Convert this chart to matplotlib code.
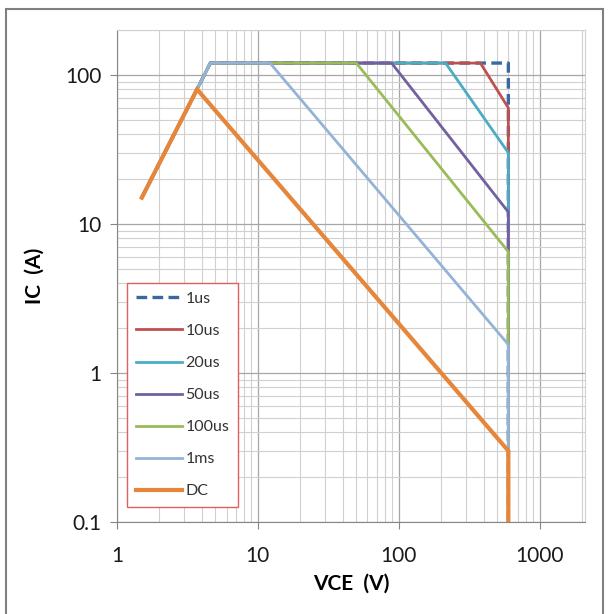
import matplotlib
matplotlib.use("Agg")
import matplotlib.pyplot as plt
from matplotlib.patches import Rectangle
from matplotlib.ticker import FixedLocator, LogLocator, NullFormatter

plt.rcParams['font.family'] = ['Lato', 'DejaVu Sans']

# safe operating area curves (VCE in V, IC in A)
labels = ['1us', '10us', '20us', '50us', '100us', '1ms', 'DC']
vce_1us = [1.5, 3.7, 4.6, 600, 600]
ic_1us = [15, 80, 120, 120, 0.1]
vce_10us = [1.5, 3.7, 4.6, 380, 600, 600]
ic_10us = [15, 80, 120, 120, 60, 0.1]
vce_20us = [1.5, 3.7, 4.6, 215, 600, 600]
ic_20us = [15, 80, 120, 120, 30, 0.1]
vce_50us = [1.5, 3.7, 4.6, 89, 600, 600]
ic_50us = [15, 80, 120, 120, 12, 0.1]
vce_100us = [1.5, 3.7, 4.6, 50, 600, 600]
ic_100us = [15, 80, 120, 120, 6.5, 0.1]
vce_1ms = [1.5, 3.7, 4.6, 12.2, 600, 600]
ic_1ms = [15, 80, 120, 120, 1.55, 0.1]
vce_dc = [1.5, 3.7, 600, 600]
ic_dc = [15, 80, 0.3, 0.1]

x_ticks = [1, 10, 100, 1000]
x_ticklabels = ['1', '10', '100', '1000']
y_ticks = [0.1, 1, 10, 100]
y_ticklabels = ['0.1', '1', '10', '100']

series = [
    (vce_1us, ic_1us, '#3A68A0', 2.4, (0, (3.2, 1.6))),
    (vce_10us, ic_10us, '#C0504D', 2.0, '-'),
    (vce_20us, ic_20us, '#4BACC6', 2.0, '-'),
    (vce_50us, ic_50us, '#7460A0', 2.0, '-'),
    (vce_100us, ic_100us, '#9BBB59', 2.0, '-'),
    (vce_1ms, ic_1ms, '#95B3D7', 2.0, '-'),
    (vce_dc, ic_dc, '#E6863A', 3.0, '-'),
]

fig = plt.figure(figsize=(6.08, 6.14), dpi=100)
ax = fig.add_axes([117 / 608, 92 / 614, 468 / 608, 492 / 614])

for (x, y, c, lw, ls), lab in zip(series, labels):
    ax.plot(x, y, color=c, lw=lw, ls=ls, label=lab, solid_joinstyle='miter')

ax.set_xscale('log')
ax.set_yscale('log')
ax.set_xlim(1, 2100)
ax.set_ylim(0.1, 200)

ax.xaxis.set_major_locator(FixedLocator(x_ticks))
ax.set_xticklabels(x_ticklabels)
ax.yaxis.set_major_locator(FixedLocator(y_ticks))
ax.set_yticklabels(y_ticklabels)
ax.xaxis.set_minor_locator(LogLocator(base=10, subs=range(2, 10), numticks=20))
ax.yaxis.set_minor_locator(LogLocator(base=10, subs=range(2, 10), numticks=20))
ax.xaxis.set_minor_formatter(NullFormatter())
ax.yaxis.set_minor_formatter(NullFormatter())

ax.grid(which='major', color='#A6A6A6', lw=0.9)
ax.grid(which='minor', color='#D0D0D0', lw=0.8)
ax.set_axisbelow(True)
ax.tick_params(which='major', length=5, color='#868686', labelsize=15, pad=6,
               labelcolor='#1A1A1A')
ax.tick_params(axis='x', pad=12)
ax.tick_params(which='minor', length=0)

for side in ['left', 'bottom']:
    ax.spines[side].set_color('#868686')
for side in ['top', 'right']:
    ax.spines[side].set_color('#D0D0D0')

ax.set_xlabel('VCE  (V)', fontsize=15, fontweight='bold', labelpad=6)
ax.set_ylabel('IC  (A)', fontsize=15, fontweight='bold', labelpad=15)

leg = ax.legend(loc='upper left', bbox_to_anchor=(10 / 468, (522 - 283) / 492),
                fontsize=11.5, frameon=True, fancybox=False, handlelength=2.9,
                handletextpad=0.2, labelspacing=1.12, borderpad=0.55,
                borderaxespad=0)
for t in leg.get_texts():
    t.set_color('#333333')
leg.get_frame().set_edgecolor('#E06060')
leg.get_frame().set_linewidth(1.0)
leg.get_frame().set_alpha(1)

fig.patches.append(Rectangle((6 / 608, -0.02), 597 / 608, 1 - 9 / 614 + 0.02,
                             transform=fig.transFigure, fill=False,
                             edgecolor='#7F7F7F', lw=1.5))

fig.savefig('out.png', dpi=100)
